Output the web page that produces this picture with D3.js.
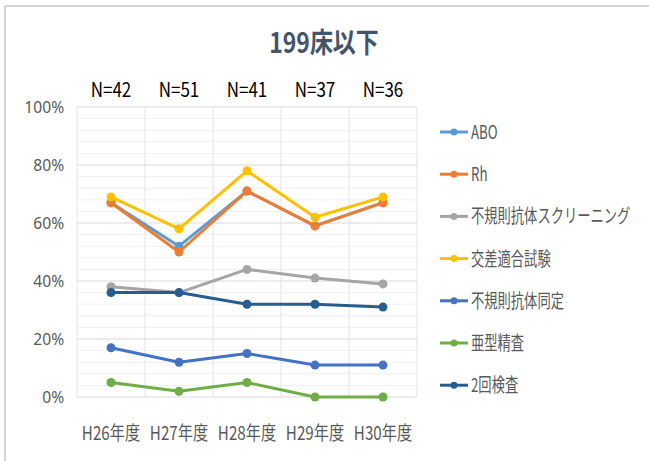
<!DOCTYPE html>
<html>
<head>
<meta charset="utf-8">
<script src="https://cdn.jsdelivr.net/npm/d3@7"></script>
<style>
  body { margin: 0; background: #fff; }
  svg { display: block; }
  text { font-family: "Noto Sans CJK JP", "Noto Sans", sans-serif; }
</style>
</head>
<body>
<svg id="chart" width="649" height="461"></svg>
<script>
const years = ["H26年度", "H27年度", "H28年度", "H29年度", "H30年度"];
const counts = ["N=42", "N=51", "N=41", "N=37", "N=36"];
const seriesNames = ["ABO", "Rh", "不規則抗体スクリーニング", "交差適合試験", "不規則抗体同定", "亜型精査", "2回検査"];
const seriesColors = ["#5B9BD5", "#ED7D31", "#A5A5A5", "#FFC000", "#4472C4", "#70AD47", "#255E91"];
const abo = [67, 52, 71, 59, 67];
const rh = [67, 50, 71, 59, 67];
const screening = [38, 36, 44, 41, 39];
const crossmatch = [69, 58, 78, 62, 69];
const identification = [17, 12, 15, 11, 11];
const subtype = [5, 2, 5, 0, 0];
const twice = [36, 36, 32, 32, 31];
const yTicks = [0, 20, 40, 60, 80, 100];
const yMinor = [4, 8, 12, 16, 24, 28, 32, 36, 44, 48, 52, 56, 64, 68, 72, 76, 84, 88, 92, 96];

const seriesValues = [abo, rh, screening, crossmatch, identification, subtype, twice];
const series = seriesNames.map((name, i) => ({ name: name, color: seriesColors[i], values: seriesValues[i] }));

const svg = d3.select("#chart");
const margin = { left: 77, right: 232, top: 107, bottom: 64 };
const width = 649 - margin.left - margin.right;
const height = 461 - margin.top - margin.bottom;

// chart frame (only top and left edges show)
svg.append("line").attr("x1", 5).attr("x2", 649).attr("y1", 6).attr("y2", 6)
    .attr("stroke", "#d4d4d4").attr("stroke-width", 2);
svg.append("line").attr("x1", 5).attr("x2", 5).attr("y1", 6).attr("y2", 461)
    .attr("stroke", "#d4d4d4").attr("stroke-width", 2);

// title
svg.append("text")
    .attr("transform", "translate(324,53) scale(0.82,1)")
    .attr("text-anchor", "middle")
    .attr("font-size", 28)
    .attr("font-weight", "bold")
    .attr("fill", "#44546A")
    .text("199床以下");

const g = svg.append("g").attr("transform", `translate(${margin.left},${margin.top})`);

const x = d3.scaleBand().domain(years).range([0, width]);
const y = d3.scaleLinear().domain([0, 100]).range([height, 0]);
const cx = d => x(d) + x.bandwidth() / 2;

// minor gridlines
g.selectAll(".minor").data(yMinor).enter().append("line")
    .attr("x1", 0).attr("x2", width)
    .attr("y1", d => y(d)).attr("y2", d => y(d))
    .attr("stroke", "#f0f0f0").attr("stroke-width", 1);

// major gridlines
g.selectAll(".major").data(yTicks).enter().append("line")
    .attr("x1", 0).attr("x2", width)
    .attr("y1", d => y(d)).attr("y2", d => y(d))
    .attr("stroke", "#d9d9d9").attr("stroke-width", 1);

// vertical gridlines on category edges
const bounds = years.map(d => x(d)).concat([width]);
g.selectAll(".vgrid").data(bounds).enter().append("line")
    .attr("x1", d => d).attr("x2", d => d)
    .attr("y1", 0).attr("y2", height)
    .attr("stroke", "#e3e3e3").attr("stroke-width", 1);

// y axis labels
const yAxis = d3.axisLeft(y).tickValues(yTicks).tickFormat(d => d + "%").tickSize(0).tickPadding(14);
const yG = g.append("g").call(yAxis);
yG.select(".domain").remove();
yG.selectAll("text").attr("font-size", 17).attr("fill", "#595959")
    .style("font-family", "'Noto Sans', sans-serif")
    .attr("transform", "scale(0.92,1)");

// x axis labels
g.selectAll(".xlabel").data(years).enter().append("text")
    .attr("transform", d => `translate(${cx(d)},${height + 43}) scale(0.8,1)`)
    .attr("text-anchor", "middle")
    .attr("font-size", 19)
    .attr("fill", "#595959")
    .text(d => d);

// N labels above the plot
g.selectAll(".nlabel").data(counts).enter().append("text")
    .attr("transform", (d, i) => `translate(${cx(years[i])},-10) scale(0.85,1)`)
    .attr("text-anchor", "middle")
    .attr("font-size", 20)
    .attr("fill", "#000")
    .text(d => d);

// lines + markers
const line = d3.line()
    .x((d, i) => cx(years[i]))
    .y(d => y(d));

series.forEach(s => {
    g.append("path")
        .datum(s.values)
        .attr("fill", "none")
        .attr("stroke", s.color)
        .attr("stroke-width", 3)
        .attr("stroke-linejoin", "round")
        .attr("d", line);
    g.selectAll(null).data(s.values).enter().append("circle")
        .attr("cx", (d, i) => cx(years[i]))
        .attr("cy", d => y(d))
        .attr("r", 4.5)
        .attr("fill", s.color);
});

// legend
const legend = svg.append("g").attr("transform", "translate(440,132)");
const items = legend.selectAll(".item").data(series).enter().append("g")
    .attr("transform", (d, i) => `translate(0,${i * 42.2})`);
items.append("line").attr("x1", 0).attr("x2", 28).attr("y1", 0).attr("y2", 0)
    .attr("stroke", d => d.color).attr("stroke-width", 3);
items.append("circle").attr("cx", 14).attr("cy", 0).attr("r", 3.5).attr("fill", d => d.color);
items.append("text")
    .attr("transform", "translate(31,7) scale(0.7,1)")
    .attr("font-size", 19)
    .attr("fill", "#595959")
    .text(d => d.name);
</script>
</body>
</html>
